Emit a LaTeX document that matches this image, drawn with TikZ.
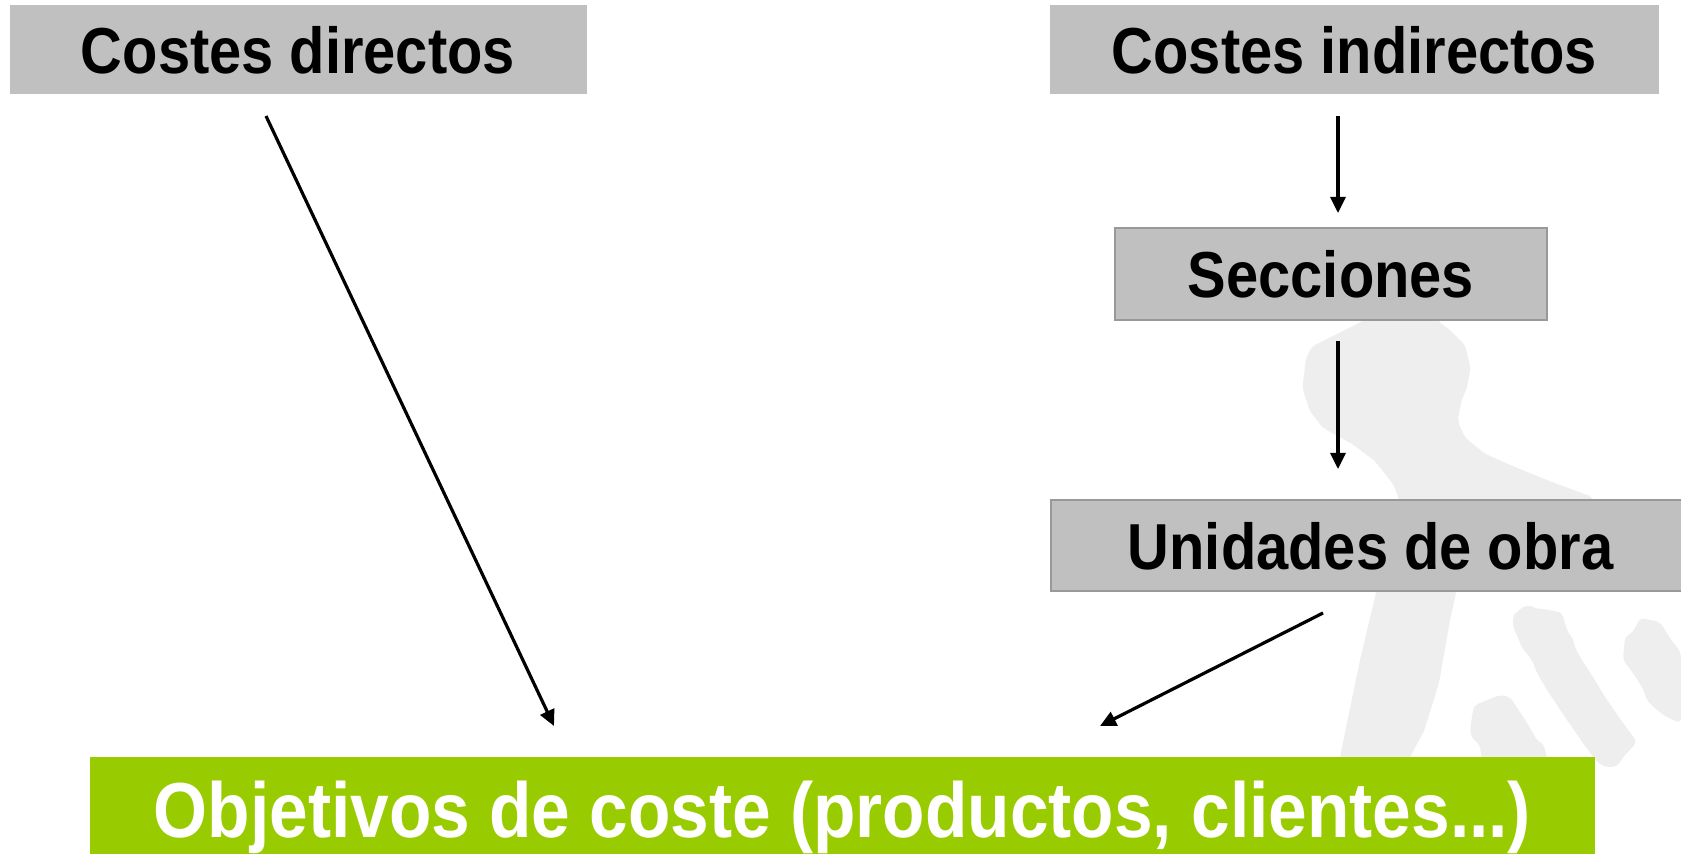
\documentclass[tikz,border=0pt]{standalone}
\usepackage{fontspec}
\setmainfont{Liberation Sans}
\usetikzlibrary{arrows.meta}
\definecolor{boxgray}{HTML}{C0C0C0}
\definecolor{bordergray}{HTML}{999999}
\definecolor{leafgreen}{HTML}{99CC00}
\definecolor{ghost}{HTML}{EEEEEE}
\newcommand{\sqz}[1]{\scalebox{0.89}[1]{#1}}
\begin{document}
\begin{tikzpicture}[x=0.5pt,y=-0.5pt,
  graybox/.style={fill=boxgray, inner sep=0pt,
    font=\fontsize{32.5}{36}\selectfont\bfseries, text height=23.3pt, text depth=0pt},
  framed/.style={draw=bordergray, line width=1pt},
  goalbox/.style={fill=leafgreen, inner sep=0pt, text=white,
    font=\fontsize{39}{44}\selectfont\bfseries, text height=27.9pt, text depth=0pt},
  flow/.style={line width=1.6pt, -{Triangle[length=8pt,width=7.5pt]}},
  silhouette/.style={fill=ghost, draw=none, rounded corners=2pt}]
\useasboundingbox (0,0) rectangle (1681,854);
\fill[white] (0,0) rectangle (1681,854);
% background silhouette
\path[silhouette] (1370,300) -- (1365,320) -- (1311.6,346.8) -- (1306,358) -- (1302.4,388)
  -- (1309.8,411) -- (1322.7,427.7) -- (1352.3,444) -- (1374.5,460.7) -- (1393,483.8)
  -- (1398.5,497) -- (1400,540) -- (1600,540) -- (1592.5,497) -- (1551.9,482)
  -- (1514.9,467) -- (1485.3,454) -- (1465,437.6) -- (1457.6,421) -- (1461.3,401)
  -- (1466.9,388) -- (1470.5,368) -- (1465,345) -- (1450.2,330.3) -- (1437.3,320.4)
  -- (1430,300) -- cycle;
\path[silhouette] (1376,580) -- (1376,593) -- (1360,660) -- (1340,757) -- (1340,790)
  -- (1410,790) -- (1410,757) -- (1424,731) -- (1439,683) -- (1450,620) -- (1456,593)
  -- (1457,580) -- cycle;
\path[silhouette] (1513,615) -- (1517,613) -- (1522,607) -- (1530,605) -- (1533,608)
  -- (1550,610) -- (1558,612) -- (1562,613) -- (1568,633) -- (1573,638) -- (1575,648)
  -- (1585,665) -- (1593,677) -- (1605,697) -- (1607,700) -- (1623,723) -- (1637,742)
  -- (1627,753) -- (1622,758) -- (1620,763) -- (1615,767) -- (1605,767) -- (1597,762)
  -- (1583,743) -- (1567,720) -- (1547,690) -- (1537,673) -- (1532,660) -- (1522,648)
  -- (1517,635) -- (1513,627) -- cycle;
\path[silhouette] (1473,710) -- (1475,705) -- (1500,695) -- (1510,697) -- (1527,723)
  -- (1538,742) -- (1543,743) -- (1547,757) -- (1550,790) -- (1485,790) -- (1480,745)
  -- (1472,738) -- (1470,730) -- cycle;
\path[silhouette] (1623,660) -- (1625,637) -- (1633,632) -- (1640,618) -- (1660,622)
  -- (1670,638) -- (1681,653) -- (1681,723) -- (1668,718) -- (1657,710) -- (1648,702)
  -- (1642,687) -- (1633,673) -- cycle;
% boxes
\node[graybox, minimum width=288.5pt, minimum height=44.5pt] (cd) at (298,50) {\sqz{Costes directos}};
\node[graybox, minimum width=304.5pt, minimum height=44.5pt] (ci) at (1354.5,50) {\sqz{Costes indirectos}};
\node[graybox, framed, minimum width=216pt, minimum height=45.75pt] (sec) at (1331,274) {\sqz{Secciones}};
\node[graybox, framed, minimum width=319.5pt, minimum height=45.5pt] (uo) at (1370.5,546) {\sqz{Unidades de obra}};
\node[goalbox, minimum width=752.5pt, minimum height=53pt] (obj) at (842.5,810) {\sqz{Objetivos de coste (productos, clientes...)}};
% arrow ends
\coordinate (a1s) at (266,116);
\coordinate (a1e) at (554,726);
\coordinate (a2s) at (1338,116);
\coordinate (a2e) at (1338,213);
\coordinate (a3s) at (1338,341);
\coordinate (a3e) at (1338,469);
\coordinate (a4s) at (1323,613);
\coordinate (a4e) at (1100,726);
\draw[flow] (a1s) -- (a1e);
\draw[flow] (a2s) -- (a2e);
\draw[flow] (a3s) -- (a3e);
\draw[flow] (a4s) -- (a4e);
\end{tikzpicture}
\end{document}
